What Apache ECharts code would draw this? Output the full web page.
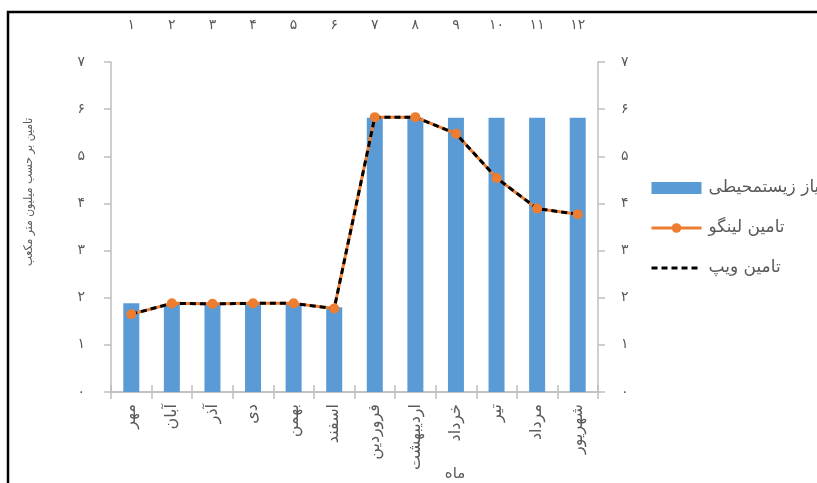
<!DOCTYPE html>
<html>
<head>
<meta charset="utf-8">
<script src="https://cdn.jsdelivr.net/npm/echarts@6/dist/echarts.min.js"></script>
<style>
  html, body { margin: 0; padding: 0; background: #fff; }
  #chart { width: 817px; height: 483px; }
</style>
</head>
<body>
<div id="chart"></div>
<script>
// Months of the water year (Persian calendar)
const months = ['مهر', 'آبان', 'آذر', 'دی', 'بهمن', 'اسفند', 'فروردین', 'اردیبهشت', 'خرداد', 'تیر', 'مرداد', 'شهریور'];
// Month index shown along the top axis
const monthNumbers = ['۱', '۲', '۳', '۴', '۵', '۶', '۷', '۸', '۹', '۱۰', '۱۱', '۱۲'];
// Environmental requirement (million m³)
const envDemand = [1.88, 1.87, 1.87, 1.88, 1.88, 1.80, 5.82, 5.82, 5.82, 5.82, 5.82, 5.82];
// Supply from the LINGO model (million m³)
const supplyLingo = [1.65, 1.88, 1.87, 1.88, 1.88, 1.77, 5.83, 5.83, 5.48, 4.54, 3.89, 3.77];
// Supply from the WEAP model (million m³)
const supplyWeap = [1.65, 1.88, 1.87, 1.88, 1.88, 1.77, 5.83, 5.83, 5.48, 4.54, 3.89, 3.77];
// Value-axis tick labels in Persian digits
const valueTicks = ['۰', '۱', '۲', '۳', '۴', '۵', '۶', '۷'];

const seriesNames = ['نیاز زیستمحیطی', 'تامین لینگو', 'تامین ویپ'];
const axisTitleY = 'تامین بر حسب میلیون متر مکعب';
const axisTitleX = 'ماه';

const axisGray = '#bfbfbf';
const textGray = '#595959';
const font = '"DejaVu Sans", sans-serif';
const condensed = '"DejaVu Sans Condensed", "DejaVu Sans", sans-serif';

const chart = echarts.init(document.getElementById('chart'), null, { renderer: 'canvas' });

const valueAxis = (position, margin) => ({
  type: 'value',
  position: position,
  min: 0,
  max: 7,
  interval: 1,
  axisLine: { show: true, lineStyle: { color: axisGray, width: 1.5 } },
  axisTick: { show: true, inside: false, length: 7, lineStyle: { color: axisGray, width: 1.5 } },
  splitLine: { show: false },
  axisLabel: {
    margin: margin,
    color: textGray,
    fontFamily: font,
    fontSize: 14,
    formatter: v => valueTicks[Math.round(v)]
  }
});

chart.setOption({
  animation: false,
  backgroundColor: '#ffffff',
  grid: { left: 111, right: 219, top: 62, bottom: 91, containLabel: false },
  xAxis: [
    {
      type: 'category',
      position: 'bottom',
      data: months,
      axisLine: { show: true, lineStyle: { color: axisGray, width: 1.5 } },
      axisTick: { show: true, alignWithLabel: false, length: 7, lineStyle: { color: axisGray, width: 1.5 } },
      axisLabel: {
        interval: 0,
        rotate: 90,
        margin: 12,
        color: textGray,
        fontFamily: font,
        fontSize: 16
      }
    },
    {
      type: 'category',
      position: 'top',
      data: monthNumbers,
      axisLine: { show: true, lineStyle: { color: axisGray, width: 1.5 } },
      axisTick: { show: true, length: 7, lineStyle: { color: axisGray, width: 1.5 } },
      axisLabel: {
        interval: 0,
        margin: 30,
        color: textGray,
        fontFamily: font,
        fontSize: 14
      }
    }
  ],
  yAxis: [valueAxis('left', 26), valueAxis('right', 23)],
  legend: {
    orient: 'vertical',
    left: 650,
    top: 177,
    padding: 0,
    itemWidth: 50,
    itemHeight: 12,
    itemGap: 18,
    lineStyle: { width: 3 },
    textStyle: { color: textGray, fontFamily: font, fontSize: 17, lineHeight: 22, padding: [0, 0, 0, 2] },
    data: [
      { name: seriesNames[0], icon: 'rect' },
      { name: seriesNames[1] },
      { name: seriesNames[2], itemStyle: { opacity: 0 } }
    ]
  },
  series: [
    {
      name: seriesNames[0],
      type: 'bar',
      xAxisIndex: 0,
      yAxisIndex: 0,
      barWidth: 16,
      itemStyle: { color: '#5b9bd5' },
      data: envDemand
    },
    {
      name: seriesNames[1],
      type: 'line',
      xAxisIndex: 0,
      yAxisIndex: 0,
      symbol: 'circle',
      symbolSize: 10,
      itemStyle: { color: '#ed7d31' },
      lineStyle: { color: '#ed7d31', width: 3 },
      data: supplyLingo
    },
    {
      name: seriesNames[2],
      type: 'line',
      xAxisIndex: 0,
      yAxisIndex: 0,
      symbol: 'none',
      itemStyle: { color: '#000000' },
      lineStyle: { color: '#000000', width: 3, type: [6, 4] },
      data: supplyWeap
    }
  ],
  graphic: [
    {
      type: 'rect',
      silent: true,
      shape: { x: 8, y: 12, width: 900, height: 600 },
      style: { fill: 'none', stroke: '#000000', lineWidth: 2.5 }
    },
    {
      type: 'text',
      silent: true,
      x: 29,
      y: 192,
      rotation: Math.PI / 2,
      style: {
        text: axisTitleY,
        fill: textGray,
        font: '12px ' + condensed,
        textAlign: 'center',
        textVerticalAlign: 'middle'
      }
    },
    {
      type: 'text',
      silent: true,
      x: 455,
      y: 474,
      style: {
        text: axisTitleX,
        fill: textGray,
        font: '15px ' + font,
        textAlign: 'center',
        textVerticalAlign: 'middle'
      }
    }
  ]
});
</script>
</body>
</html>
